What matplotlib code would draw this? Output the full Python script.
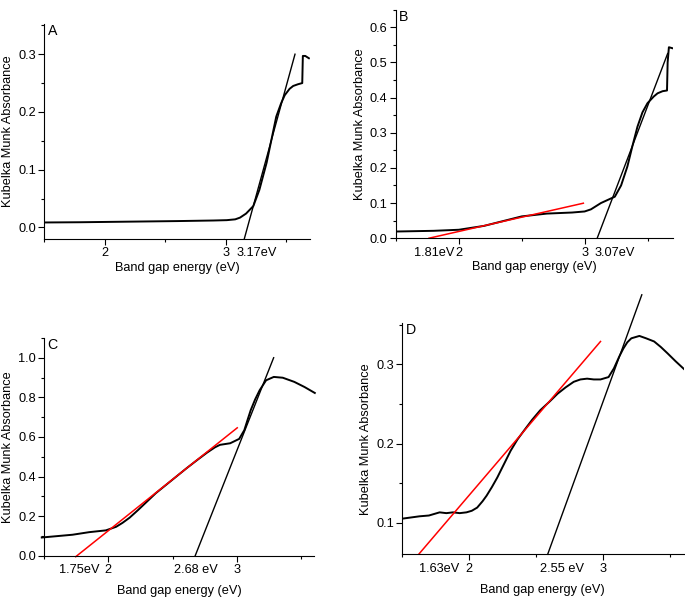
import numpy as np
import matplotlib.pyplot as plt
from matplotlib.ticker import MultipleLocator

plt.rcParams['font.family'] = ['Liberation Sans', 'DejaVu Sans']
FS = 9.2

# panel A
a_x = [1.50, 1.8, 2.2, 2.6, 2.9, 3.01, 3.08, 3.12, 3.17, 3.23, 3.28, 3.34, 3.38, 3.42, 3.46, 3.49, 3.53, 3.56, 3.60, 3.635, 3.64, 3.66, 3.69]
a_y = [0.0086, 0.009, 0.010, 0.011, 0.012, 0.0126, 0.014, 0.017, 0.024, 0.037, 0.065, 0.112, 0.152, 0.192, 0.215, 0.229, 0.240, 0.245, 0.248, 0.250, 0.297, 0.297, 0.293]
a_fit_x = [3.155, 3.575]
a_fit_y = [-0.020, 0.300]

# panel B
b_x = [1.50, 1.8, 2.0, 2.2, 2.5, 2.7, 2.9, 3.0, 3.05, 3.13, 3.24, 3.29, 3.34, 3.38, 3.42, 3.46, 3.50, 3.55, 3.58, 3.62, 3.655, 3.66, 3.67, 3.70]
b_y = [0.019, 0.021, 0.024, 0.035, 0.062, 0.070, 0.073, 0.076, 0.082, 0.100, 0.118, 0.150, 0.204, 0.262, 0.317, 0.358, 0.384, 0.403, 0.412, 0.418, 0.420, 0.500, 0.543, 0.540]
b_fit_x = [3.10, 3.66]
b_fit_y = [0.0, 0.525]
b_red_x = [1.763, 2.99]
b_red_y = [0.0, 0.0995]

# panel C
c_x = [1.48, 1.60, 1.72, 1.85, 1.98, 2.06, 2.11, 2.165, 2.23, 2.30, 2.37, 2.45, 2.53, 2.61, 2.69, 2.77, 2.83, 2.87, 2.95, 3.02, 3.06, 3.085, 3.11, 3.145, 3.18, 3.23, 3.29, 3.36, 3.45, 3.53, 3.61]
c_y = [0.092, 0.099, 0.106, 0.119, 0.128, 0.146, 0.166, 0.192, 0.230, 0.273, 0.316, 0.358, 0.400, 0.442, 0.482, 0.521, 0.547, 0.560, 0.568, 0.590, 0.634, 0.685, 0.735, 0.790, 0.836, 0.886, 0.903, 0.899, 0.878, 0.852, 0.822]
c_fit_x = [2.677, 3.289]
c_fit_y = [0.0, 1.0]
c_red_x = [1.745, 3.005]
c_red_y = [-0.005, 0.646]

# panel D
d_x = [1.50, 1.63, 1.70, 1.74, 1.78, 1.83, 1.88, 1.93, 1.98, 2.02, 2.06, 2.10, 2.13, 2.17, 2.21, 2.26, 2.31, 2.36, 2.41, 2.47, 2.53, 2.60, 2.66, 2.72, 2.78, 2.83, 2.88, 2.93, 2.98, 3.04, 3.08, 3.12, 3.15, 3.18, 3.21, 3.27, 3.32, 3.35, 3.38, 3.43, 3.48, 3.54, 3.61]
d_y = [0.105, 0.108, 0.109, 0.111, 0.113, 0.112, 0.113, 0.112, 0.113, 0.115, 0.119, 0.127, 0.134, 0.145, 0.157, 0.174, 0.191, 0.205, 0.2165, 0.230, 0.242, 0.253, 0.263, 0.271, 0.278, 0.281, 0.282, 0.281, 0.281, 0.284, 0.295, 0.310, 0.320, 0.328, 0.333, 0.336, 0.333, 0.331, 0.329, 0.322, 0.314, 0.304, 0.293]
d_fit_x = [2.586, 3.288]
d_fit_y = [0.060, 0.388]
d_red_x = [1.627, 2.98]
d_red_y = [0.0606, 0.329]

fig = plt.figure(figsize=(6.85, 6.0), dpi=100)


def style(ax, xlim, ylim, ymajor, yminor, letter, xpad):
    ax.set_xlim(xlim)
    ax.set_ylim(ylim)
    for s in ['top', 'right']:
        ax.spines[s].set_visible(False)
    ax.xaxis.set_major_locator(MultipleLocator(1))
    ax.xaxis.set_minor_locator(MultipleLocator(0.5))
    ax.yaxis.set_major_locator(MultipleLocator(ymajor))
    ax.yaxis.set_minor_locator(MultipleLocator(yminor))
    ax.tick_params(which='major', direction='out', length=4, width=0.8, labelsize=FS, pad=2)
    ax.tick_params(which='minor', direction='out', length=2.5, width=0.8)
    ax.set_xlabel('Band gap energy (eV)', fontsize=FS, labelpad=xpad)
    ax.set_ylabel('Kubelka Munk Absorbance', fontsize=FS, labelpad=3)
    ax.yaxis.set_major_formatter(lambda v, p: f'{v:.1f}')
    ax.text(0.012, 1.0, letter, transform=ax.transAxes, fontsize=FS + 1, ha='left', va='top')


def elabel(ax, x, txt, ha):
    ax.annotate(txt, xy=(x, 0), xycoords=('data', 'axes fraction'), xytext=(0, -6),
                textcoords='offset points', ha=ha, va='top', fontsize=FS)


axA = fig.add_axes([0.0647, 0.6017, 0.388, 0.358])
axA.plot(a_x, a_y, color='black', lw=1.4)
axA.plot(a_fit_x, a_fit_y, color='black', lw=1.0, clip_on=False)
style(axA, (1.5, 3.7), (-0.02, 0.352), 0.1, 0.05, 'A', 2)
elabel(axA, 3.26, '3.17eV', 'center')

axB = fig.add_axes([0.578, 0.603, 0.404, 0.381])
axB.plot(b_x, b_y, color='black', lw=1.4)
axB.plot(b_fit_x, b_fit_y, color='black', lw=1.0)
axB.plot(b_red_x, b_red_y, color='red', lw=1.1)
style(axB, (1.5, 3.7), (0, 0.65), 0.1, 0.05, 'B', 2)
elabel(axB, 1.965, '1.81eV', 'right')
elabel(axB, 3.08, '3.07eV', 'left')

axC = fig.add_axes([0.0647, 0.0738, 0.393, 0.363])
axC.plot(c_x, c_y, color='black', lw=1.4, clip_on=False)
axC.plot(c_fit_x, c_fit_y, color='black', lw=1.0)
axC.plot(c_red_x, c_red_y, color='red', lw=1.1, clip_on=False)
style(axC, (1.5, 3.6), (0, 1.1), 0.2, 0.1, 'C', 6.5)
elabel(axC, 1.93, '1.75eV', 'right')
elabel(axC, 2.68, '2.68 eV', 'center')

axD = fig.add_axes([0.587, 0.0762, 0.411, 0.385])
axD.plot(d_x, d_y, color='black', lw=1.4)
axD.plot(d_fit_x, d_fit_y, color='black', lw=1.0, clip_on=False)
axD.plot(d_red_x, d_red_y, color='red', lw=1.1)
style(axD, (1.5, 3.6), (0.06, 0.352), 0.1, 0.05, 'D', 6.5)
elabel(axD, 1.93, '1.63eV', 'right')
elabel(axD, 2.69, '2.55 eV', 'center')

fig.savefig('out.png', dpi=100)
